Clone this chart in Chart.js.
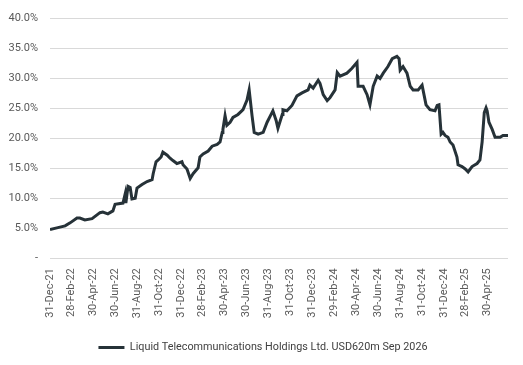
<!DOCTYPE html>
<html>
<head>
<meta charset="utf-8">
<script src="https://cdn.jsdelivr.net/npm/chart.js@4"></script>
<style>
  html, body { margin: 0; padding: 0; background: #ffffff; }
  #chart { display: block; }
</style>
</head>
<body>
<canvas id="chart" width="523" height="365"></canvas>
<script>
const seriesName = "Liquid Telecommunications Holdings Ltd. USD620m Sep 2026";

// days after 31-Dec-21
const dayIndex = [
  0, 22, 42, 56, 75, 83, 97, 117, 139, 147, 161, 175, 181, 203, 209, 211, 217, 223, 228, 237,
  242, 256, 270, 284, 287, 295, 301, 309, 314, 326, 334, 342, 353, 367, 370, 381, 390, 398, 412, 417,
  426, 440, 451, 465, 473, 479, 481, 487, 492, 501, 509, 523, 537, 548, 554, 562, 568, 579, 593, 604,
  615, 620, 629, 634, 646, 648, 659, 673, 687, 701, 718, 723, 732, 746, 751, 760, 771, 779, 793, 799,
  807, 826, 840, 854, 857, 871, 882, 890, 899, 910, 918, 927, 940, 952, 965, 971, 974, 982, 993, 1002,
  1010, 1024, 1035, 1041, 1046, 1057, 1071, 1077, 1082, 1088, 1093, 1099, 1107, 1113, 1121, 1132, 1135, 1146, 1155, 1163,
  1174, 1188, 1196, 1202, 1208, 1213, 1216, 1221, 1230, 1238, 1252, 1260, 1274
];

// yield, %
const yieldPct = [
  4.8, 5.1, 5.4, 5.9, 6.7, 6.7, 6.4, 6.6, 7.6, 7.7, 7.4, 7.9, 9.0, 9.2, 10.7, 9.2, 12.0, 11.8, 9.9, 10.0,
  11.7, 12.3, 12.8, 13.1, 14.1, 16.1, 16.4, 16.9, 17.7, 17.2, 16.7, 16.3, 15.8, 16.1, 15.6, 14.9, 13.3, 14.1, 15.1, 16.9,
  17.4, 17.9, 18.7, 19.0, 19.4, 21.0, 21.5, 23.8, 22.2, 22.7, 23.5, 24.0, 24.8, 26.4, 28.1, 23.8, 21.0, 20.7, 21.0, 22.7,
  24.0, 24.6, 23.0, 21.7, 24.0, 24.8, 24.6, 25.5, 27.1, 27.6, 28.1, 28.9, 28.4, 29.7, 29.2, 27.3, 26.3, 26.8, 28.1, 31.0,
  30.4, 30.9, 31.7, 32.7, 28.7, 28.7, 27.3, 25.6, 28.7, 30.4, 30.0, 30.9, 32.0, 33.3, 33.7, 33.3, 31.4, 32.0, 30.9, 28.7,
  28.1, 28.1, 28.9, 27.1, 25.6, 24.8, 24.6, 25.5, 25.6, 20.7, 21.0, 20.5, 20.2, 19.4, 18.9, 16.9, 15.6, 15.3, 14.9, 14.4,
  15.3, 15.8, 16.4, 19.4, 24.3, 25.1, 24.6, 22.7, 21.5, 20.2, 20.2, 20.5, 20.5
];

const tickDates = [
  "2021-12-31", "2022-02-28", "2022-04-30", "2022-06-30", "2022-08-31", "2022-10-31", "2022-12-31",
  "2023-02-28", "2023-04-30", "2023-06-30", "2023-08-31", "2023-10-31", "2023-12-31", "2024-02-29",
  "2024-04-30", "2024-06-30", "2024-08-31", "2024-10-31", "2024-12-31", "2025-02-28", "2025-04-30"
];
const tickLabels = [
  "31-Dec-21", "28-Feb-22", "30-Apr-22", "30-Jun-22", "31-Aug-22", "31-Oct-22", "31-Dec-22",
  "28-Feb-23", "30-Apr-23", "30-Jun-23", "31-Aug-23", "31-Oct-23", "31-Dec-23", "29-Feb-24",
  "30-Apr-24", "30-Jun-24", "31-Aug-24", "31-Oct-24", "31-Dec-24", "28-Feb-25", "30-Apr-25"
];

const start = Date.UTC(2021, 11, 31);
const tickDays = tickDates.map((d) => Math.round((Date.parse(d) - start) / 86400000));

const points = [];
for (let i = 0; i < dayIndex.length; i++) {
  points.push({ x: dayIndex[i], y: yieldPct[i] });
}

const lineColour = "#263238";
const tickColour = "#595959";

// nudge the legend so it sits centred like the original
const legendShift = {
  id: "legendShift",
  afterLayout(chart) {
    chart.legend.left += 9;
    chart.legend.right += 9;
  },
};

new Chart(document.getElementById("chart"), {
  type: "line",
  data: {
    datasets: [
      {
        label: seriesName,
        data: points,
        borderColor: lineColour,
        backgroundColor: lineColour,
        borderWidth: 3,
        pointRadius: 0,
        tension: 0,
        fill: false,
      },
    ],
  },
  options: {
    responsive: false,
    animation: false,
    devicePixelRatio: 1,
    layout: {
      padding: { top: 0, right: 15, left: 0, bottom: 2 },
    },
    plugins: {
      tooltip: { enabled: false },
      legend: {
        position: "bottom",
        labels: {
          boxWidth: 26,
          boxHeight: 3,
          padding: 10,
          color: "#404040",
          font: { family: "Roboto", size: 10.8 },
          generateLabels: (chart) =>
            Chart.defaults.plugins.legend.labels.generateLabels(chart).map((item) => {
              item.fillStyle = lineColour;
              item.strokeStyle = "rgba(0,0,0,0)";
              return item;
            }),
        },
      },
    },
    scales: {
      x: {
        type: "linear",
        min: 0,
        max: dayIndex[dayIndex.length - 1],
        afterBuildTicks: (axis) => {
          axis.ticks = tickDays.map((v) => ({ value: v }));
        },
        afterFit: (axis) => {
          axis.height = 74;
        },
        grid: { display: false, drawTicks: false },
        border: { display: false },
        ticks: {
          autoSkip: false,
          minRotation: 90,
          maxRotation: 90,
          padding: 10,
          color: tickColour,
          font: { family: "Roboto", size: 11 },
          callback: (value, index) => tickLabels[index],
        },
      },
      y: {
        min: 0,
        max: 40,
        afterFit: (axis) => {
          axis.width = 50;
        },
        grid: { color: "#d9d9d9", lineWidth: 1, drawTicks: false },
        border: { display: false },
        ticks: {
          stepSize: 5,
          padding: 12,
          color: tickColour,
          font: { family: "Roboto", size: 11 },
          callback: (v) => (v === 0 ? "-" : v.toFixed(1) + "%"),
        },
      },
    },
  },
  plugins: [legendShift],
});
</script>
</body>
</html>
